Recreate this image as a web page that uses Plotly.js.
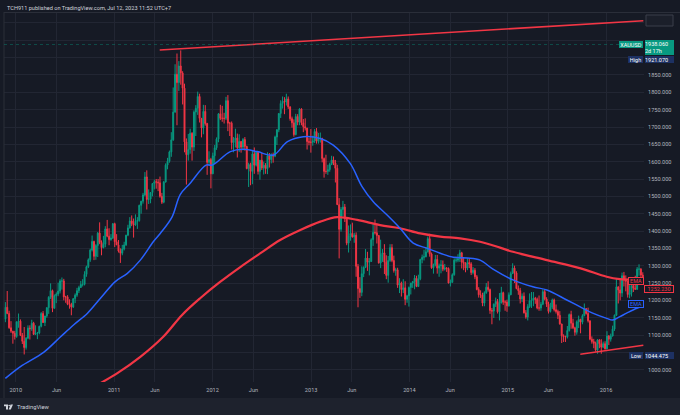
<!DOCTYPE html>
<html><head><meta charset="utf-8">
<script src="https://cdn.plot.ly/plotly-3.0.1.min.js"></script>
<style>html,body{margin:0;padding:0;background:#161a25;}#chart{width:680px;height:415px;}</style>
</head><body><div id="chart"></div>
<script>
// ---- Weekly XAUUSD candles (week start dates) ----
const weeks = [
'2009-11-23','2009-11-30','2009-12-07','2009-12-14','2009-12-21','2009-12-28',
'2010-01-04','2010-01-11','2010-01-18','2010-01-25','2010-02-01','2010-02-08','2010-02-15','2010-02-22','2010-03-01','2010-03-08','2010-03-15','2010-03-22','2010-03-29','2010-04-05','2010-04-12','2010-04-19','2010-04-26','2010-05-03','2010-05-10','2010-05-17','2010-05-24','2010-05-31','2010-06-07','2010-06-14','2010-06-21','2010-06-28','2010-07-05','2010-07-12','2010-07-19','2010-07-26','2010-08-02','2010-08-09','2010-08-16','2010-08-23','2010-08-30','2010-09-06','2010-09-13','2010-09-20','2010-09-27','2010-10-04','2010-10-11','2010-10-18','2010-10-25','2010-11-01','2010-11-08','2010-11-15','2010-11-22','2010-11-29','2010-12-06','2010-12-13','2010-12-20','2010-12-27',
'2011-01-03','2011-01-10','2011-01-17','2011-01-24','2011-01-31','2011-02-07','2011-02-14','2011-02-21','2011-02-28','2011-03-07','2011-03-14','2011-03-21','2011-03-28','2011-04-04','2011-04-11','2011-04-18','2011-04-25','2011-05-02','2011-05-09','2011-05-16','2011-05-23','2011-05-30','2011-06-06','2011-06-13','2011-06-20','2011-06-27','2011-07-04','2011-07-11','2011-07-18','2011-07-25','2011-08-01','2011-08-08','2011-08-15','2011-08-22','2011-08-29','2011-09-05','2011-09-12','2011-09-19','2011-09-26','2011-10-03','2011-10-10','2011-10-17','2011-10-24','2011-10-31','2011-11-07','2011-11-14','2011-11-21','2011-11-28','2011-12-05','2011-12-12','2011-12-19','2011-12-26',
'2012-01-02','2012-01-09','2012-01-16','2012-01-23','2012-01-30','2012-02-06','2012-02-13','2012-02-20','2012-02-27','2012-03-05','2012-03-12','2012-03-19','2012-03-26','2012-04-02','2012-04-09','2012-04-16','2012-04-23','2012-04-30','2012-05-07','2012-05-14','2012-05-21','2012-05-28','2012-06-04','2012-06-11','2012-06-18','2012-06-25','2012-07-02','2012-07-09','2012-07-16','2012-07-23','2012-07-30','2012-08-06','2012-08-13','2012-08-20','2012-08-27','2012-09-03','2012-09-10','2012-09-17','2012-09-24','2012-10-01','2012-10-08','2012-10-15','2012-10-22','2012-10-29','2012-11-05','2012-11-12','2012-11-19','2012-11-26','2012-12-03','2012-12-10','2012-12-17','2012-12-24','2012-12-31',
'2013-01-07','2013-01-14','2013-01-21','2013-01-28','2013-02-04','2013-02-11','2013-02-18','2013-02-25','2013-03-04','2013-03-11','2013-03-18','2013-03-25','2013-04-01','2013-04-08','2013-04-15','2013-04-22','2013-04-29','2013-05-06','2013-05-13','2013-05-20','2013-05-27','2013-06-03','2013-06-10','2013-06-17','2013-06-24','2013-07-01','2013-07-08','2013-07-15','2013-07-22','2013-07-29','2013-08-05','2013-08-12','2013-08-19','2013-08-26','2013-09-02','2013-09-09','2013-09-16','2013-09-23','2013-09-30','2013-10-07','2013-10-14','2013-10-21','2013-10-28','2013-11-04','2013-11-11','2013-11-18','2013-11-25','2013-12-02','2013-12-09','2013-12-16','2013-12-23','2013-12-30',
'2014-01-06','2014-01-13','2014-01-20','2014-01-27','2014-02-03','2014-02-10','2014-02-17','2014-02-24','2014-03-03','2014-03-10','2014-03-17','2014-03-24','2014-03-31','2014-04-07','2014-04-14','2014-04-21','2014-04-28','2014-05-05','2014-05-12','2014-05-19','2014-05-26','2014-06-02','2014-06-09','2014-06-16','2014-06-23','2014-06-30','2014-07-07','2014-07-14','2014-07-21','2014-07-28','2014-08-04','2014-08-11','2014-08-18','2014-08-25','2014-09-01','2014-09-08','2014-09-15','2014-09-22','2014-09-29','2014-10-06','2014-10-13','2014-10-20','2014-10-27','2014-11-03','2014-11-10','2014-11-17','2014-11-24','2014-12-01','2014-12-08','2014-12-15','2014-12-22','2014-12-29',
'2015-01-05','2015-01-12','2015-01-19','2015-01-26','2015-02-02','2015-02-09','2015-02-16','2015-02-23','2015-03-02','2015-03-09','2015-03-16','2015-03-23','2015-03-30','2015-04-06','2015-04-13','2015-04-20','2015-04-27','2015-05-04','2015-05-11','2015-05-18','2015-05-25','2015-06-01','2015-06-08','2015-06-15','2015-06-22','2015-06-29','2015-07-06','2015-07-13','2015-07-20','2015-07-27','2015-08-03','2015-08-10','2015-08-17','2015-08-24','2015-08-31','2015-09-07','2015-09-14','2015-09-21','2015-09-28','2015-10-05','2015-10-12','2015-10-19','2015-10-26','2015-11-02','2015-11-09','2015-11-16','2015-11-23','2015-11-30','2015-12-07','2015-12-14','2015-12-21','2015-12-28',
'2016-01-04','2016-01-11','2016-01-18','2016-01-25','2016-02-01','2016-02-08','2016-02-15','2016-02-22','2016-02-29','2016-03-07','2016-03-14','2016-03-21','2016-03-28','2016-04-04','2016-04-11','2016-04-18','2016-04-25','2016-05-02','2016-05-09','2016-05-16'];

const opens = [
1146,1180,1162,1121,1111,1105,
1096,1138,1140,1099,1082,1064,1091,1120,1118,1134,1102,1106,1106,1125,1162,1136,1155,1179,1209,1228,1177,1213,1218,1227,1256,1256,1210,1210,1189,1188,1181,1205,1215,1228,1237,1246,1246,1275,1297,1317,1345,1370,1327,1358,1394,1367,1352,1362,1406,1385,1375,1380,
1421,1369,1360,1342,1336,1348,1360,1388,1409,1429,1421,1418,1428,1430,1474,1486,1504,1556,1491,1492,1511,1537,1542,1541,1539,1500,1483,1541,1590,1601,1628,1663,1743,1852,1828,1876,1856,1812,1657,1620,1635,1682,1642,1743,1754,1788,1725,1697,1745,1710,1598,1606,
1565,1617,1640,1665,1738,1725,1725,1725,1776,1711,1711,1655,1662,1668,1640,1658,1642,1664,1644,1580,1592,1572,1622,1590,1627,1572,1604,1582,1590,1580,1617,1606,1620,1616,1671,1692,1739,1768,1774,1772,1781,1758,1724,1712,1678,1730,1714,1752,1712,1701,1697,1658,1656,
1656,1660,1687,1659,1667,1667,1609,1572,1572,1577,1592,1605,1596,1581,1476,1405,1462,1469,1436,1365,1386,1393,1383,1388,1298,1234,1223,1277,1295,1322,1310,1312,1375,1396,1395,1387,1308,1333,1337,1310,1272,1315,1352,1315,1286,1288,1244,1250,1231,1236,1203,1213,
1237,1250,1254,1264,1240,1262,1318,1324,1326,1340,1378,1334,1294,1303,1318,1293,1300,1302,1290,1293,1292,1250,1252,1274,1316,1316,1320,1337,1310,1307,1293,1309,1305,1280,1287,1268,1231,1216,1216,1192,1222,1238,1231,1171,1169,1189,1197,1167,1192,1222,1195,1195,
1184,1216,1277,1293,1279,1234,1228,1204,1212,1164,1152,1182,1199,1201,1206,1203,1178,1178,1189,1225,1204,1189,1168,1180,1201,1173,1168,1157,1132,1098,1095,1094,1113,1159,1134,1121,1108,1138,1145,1137,1156,1176,1162,1141,1088,1081,1076,1057,1086,1075,1065,1075,
1060,1097,1088,1097,1117,1157,1239,1230,1221,1271,1259,1255,1217,1222,1243,1235,1232,1290,1290,1273];

const highs = [
1195,1227,1170,1140,1112,1112,
1139,1162,1145,1106,1123,1094,1128,1128,1144,1138,1128,1109,1127,1166,1169,1155,1180,1212,1249,1231,1217,1223,1251,1261,1266,1262,1213,1215,1203,1193,1205,1220,1236,1242,1256,1261,1284,1300,1321,1349,1387,1372,1362,1397,1425,1373,1386,1414,1432,1408,1391,1423,
1424,1391,1374,1350,1360,1369,1389,1418,1440,1445,1436,1448,1440,1476,1487,1510,1570,1575,1520,1512,1538,1548,1550,1550,1557,1510,1544,1595,1611,1632,1685,1814,1881,1912,1890,1921,1861,1825,1667,1680,1695,1685,1748,1763,1802,1796,1726,1764,1763,1712,1630,1611,
1626,1648,1670,1740,1764,1761,1741,1787,1792,1715,1716,1671,1695,1681,1679,1660,1668,1671,1646,1597,1597,1632,1641,1628,1627,1605,1625,1600,1596,1627,1625,1624,1626,1675,1694,1740,1777,1788,1786,1796,1788,1760,1730,1722,1738,1737,1754,1754,1723,1725,1697,1669,1694,
1675,1694,1697,1683,1684,1669,1612,1620,1591,1597,1617,1615,1605,1591,1495,1469,1487,1478,1440,1416,1419,1424,1395,1396,1305,1267,1298,1298,1348,1340,1322,1379,1420,1433,1421,1388,1375,1348,1362,1330,1328,1362,1362,1329,1294,1294,1264,1254,1261,1255,1216,1240,
1250,1256,1273,1271,1274,1320,1332,1346,1354,1384,1392,1338,1306,1331,1331,1306,1316,1315,1305,1296,1295,1260,1278,1321,1326,1333,1346,1340,1325,1310,1322,1321,1310,1296,1293,1273,1238,1229,1222,1226,1250,1255,1234,1178,1191,1208,1204,1221,1239,1225,1200,1202,
1223,1283,1307,1300,1284,1243,1236,1220,1223,1172,1189,1220,1224,1224,1210,1208,1214,1196,1232,1232,1209,1196,1193,1205,1205,1188,1173,1169,1132,1102,1098,1126,1162,1170,1147,1124,1142,1156,1147,1160,1191,1178,1179,1142,1096,1089,1081,1088,1088,1088,1081,1082,
1111,1100,1104,1127,1159,1263,1240,1261,1280,1282,1272,1256,1244,1251,1262,1271,1296,1304,1293,1281];

const lows = [
1137,1160,1118,1106,1075,1087,
1092,1121,1097,1074,1044,1058,1088,1087,1112,1100,1100,1088,1102,1122,1135,1126,1150,1161,1204,1166,1177,1192,1212,1220,1231,1200,1193,1186,1176,1157,1178,1192,1210,1221,1236,1240,1243,1268,1293,1311,1341,1316,1317,1325,1362,1330,1350,1353,1382,1359,1372,1377,
1354,1360,1338,1308,1330,1344,1357,1385,1407,1414,1381,1415,1406,1427,1450,1479,1500,1462,1478,1480,1500,1520,1522,1515,1496,1478,1480,1540,1578,1597,1614,1660,1741,1705,1804,1822,1765,1627,1534,1603,1623,1603,1631,1674,1735,1713,1670,1679,1704,1562,1588,1523,
1564,1594,1634,1656,1720,1715,1710,1720,1688,1674,1635,1627,1641,1612,1628,1626,1633,1632,1578,1527,1532,1535,1565,1586,1563,1548,1576,1563,1565,1564,1583,1595,1597,1613,1648,1685,1726,1753,1737,1762,1752,1718,1698,1672,1676,1705,1705,1705,1685,1690,1635,1647,1626,
1646,1654,1652,1652,1655,1598,1554,1565,1562,1571,1590,1590,1540,1475,1321,1398,1443,1426,1359,1338,1372,1381,1366,1268,1180,1207,1212,1267,1293,1285,1272,1311,1357,1390,1364,1306,1293,1311,1276,1261,1251,1311,1310,1280,1271,1236,1221,1211,1221,1186,1193,1182,
1217,1236,1232,1238,1240,1258,1307,1315,1324,1338,1326,1291,1277,1298,1277,1268,1278,1284,1286,1282,1249,1240,1251,1271,1309,1310,1311,1292,1287,1281,1287,1293,1273,1275,1261,1229,1208,1207,1183,1183,1219,1225,1161,1131,1149,1181,1162,1142,1192,1187,1170,1167,
1182,1215,1276,1250,1232,1216,1191,1195,1162,1147,1142,1178,1178,1183,1190,1174,1170,1170,1186,1200,1181,1162,1165,1175,1168,1162,1146,1130,1077,1080,1080,1090,1110,1118,1117,1098,1101,1120,1105,1131,1154,1159,1136,1085,1075,1062,1052,1046,1062,1046,1062,1058,
1059,1071,1081,1096,1112,1155,1191,1200,1210,1240,1226,1208,1206,1211,1224,1231,1230,1271,1258,1245];

const closes = [
1180,1162,1121,1111,1105,1096,
1138,1140,1099,1082,1064,1091,1120,1118,1134,1102,1106,1106,1125,1162,1136,1155,1179,1209,1228,1177,1213,1218,1227,1256,1256,1210,1210,1189,1188,1181,1205,1215,1228,1237,1246,1246,1275,1297,1317,1345,1370,1327,1358,1394,1367,1352,1362,1406,1385,1375,1380,1421,
1369,1360,1342,1336,1348,1360,1388,1409,1429,1421,1418,1428,1430,1474,1486,1504,1556,1491,1492,1511,1537,1542,1541,1539,1500,1483,1541,1590,1601,1628,1663,1743,1852,1828,1876,1856,1812,1657,1620,1635,1682,1642,1743,1754,1788,1725,1697,1745,1710,1598,1606,1565,
1617,1640,1665,1738,1725,1725,1725,1776,1711,1711,1655,1662,1668,1640,1658,1642,1664,1644,1580,1592,1572,1622,1590,1627,1572,1604,1582,1590,1580,1617,1606,1620,1616,1671,1692,1739,1768,1774,1772,1781,1758,1724,1712,1678,1730,1714,1752,1712,1701,1697,1658,1656,1656,
1660,1687,1659,1667,1667,1609,1572,1572,1577,1592,1605,1596,1581,1476,1405,1462,1469,1436,1365,1386,1393,1383,1388,1298,1234,1223,1277,1295,1322,1310,1312,1375,1396,1395,1387,1308,1333,1337,1310,1272,1315,1352,1315,1286,1288,1244,1250,1231,1236,1203,1213,1237,
1250,1254,1264,1240,1262,1318,1324,1326,1340,1378,1334,1294,1303,1318,1293,1300,1302,1290,1293,1292,1250,1252,1274,1316,1316,1320,1337,1310,1307,1293,1309,1305,1280,1287,1268,1231,1216,1216,1192,1222,1238,1231,1171,1169,1189,1197,1167,1192,1222,1195,1195,1184,
1216,1277,1293,1279,1234,1228,1204,1212,1164,1152,1182,1199,1201,1206,1203,1178,1178,1189,1225,1204,1189,1168,1180,1201,1173,1168,1157,1132,1098,1095,1094,1113,1159,1134,1121,1108,1138,1145,1137,1156,1176,1162,1141,1088,1081,1076,1057,1086,1075,1065,1075,1060,
1097,1088,1097,1117,1157,1239,1230,1221,1271,1259,1255,1217,1222,1243,1235,1232,1290,1290,1273,1252.23];

// ---- EMA lines ----
const emaBlueDates = ['2009-11-23','2010-01-18','2010-04-14','2010-06-16','2010-08-03','2010-09-24','2010-11-11','2011-01-05','2011-02-19','2011-04-08','2011-05-26','2011-06-21','2011-08-04','2011-09-03','2011-10-10','2011-12-08','2011-12-31','2012-03-07','2012-04-24','2012-06-15','2012-08-14','2012-10-05','2012-12-03','2013-02-04','2013-03-24','2013-05-26','2013-07-09','2013-08-19','2013-10-10','2013-11-27','2014-01-15','2014-03-08','2014-04-25','2014-06-13','2014-08-03','2014-09-20','2014-11-07','2015-01-20','2015-04-04','2015-05-26','2015-08-08','2015-09-25','2015-11-12','2016-01-03','2016-01-25','2016-02-21','2016-03-17','2016-04-24','2016-05-16'];
const emaBlue = [975,1009,1050,1095,1129,1163,1206,1254,1278,1316,1369,1393,1441,1505,1538,1590,1590,1629,1636,1629,1619,1658,1672,1667,1648,1595,1528,1485,1446,1408,1365,1350,1336,1324,1322,1316,1290,1259,1239,1230,1201,1182,1163,1148,1143,1153,1163,1177,1182];
const emaRedDates = ['2010-10-30','2011-01-13','2011-04-08','2011-07-02','2011-09-10','2011-11-16','2012-01-29','2012-04-13','2012-06-27','2012-09-08','2012-11-22','2013-02-04','2013-04-08','2013-06-21','2013-09-14','2013-11-27','2014-02-10','2014-04-25','2014-07-08','2014-09-20','2014-12-03','2015-01-20','2015-05-26','2015-09-25','2016-01-03','2016-02-21','2016-04-09','2016-05-16'];
const emaRed = [956,990,1037,1095,1158,1206,1253,1296,1336,1374,1403,1427,1440,1432,1417,1408,1393,1384,1379,1369,1352,1340,1316,1293,1268,1261,1259,1257];

// ---- Trend lines ----
const topLineDates = ['2011-06-19','2016-05-18'];
const topLinePrices = [1922, 2006.6];
const bottomLineDates = ['2015-09-27','2016-05-18'];
const bottomLinePrices = [1044.4, 1070.3];

// ---- Axis ticks & labels (labels hidden where the price badges cover them) ----
const xTickDates = ['2010-01-01','2010-06-01','2011-01-01','2011-06-01','2012-01-01','2012-06-01','2013-01-01','2013-06-01','2014-01-01','2014-06-01','2015-01-01','2015-06-01','2016-01-01'];
const xTickLabels = ['2010','Jun','2011','Jun','2012','Jun','2013','Jun','2014','Jun','2015','Jun','2016'];
const yTickValues = [1000,1050,1100,1150,1200,1250,1300,1350,1400,1450,1500,1550,1600,1650,1700,1750,1800,1850,1900,1950,2000];
const yTickLabels = ['1000.000','','1100.000','1150.000','1200.000','1250.000','1300.000','1350.000','1400.000','1450.000','1500.000','1550.000','1600.000','1650.000','1700.000','1750.000','1800.000','1850.000','','',''];

// ---- Labels ----
const headerText = 'TCH911 published on TradingView.com, Jul 12, 2023 11:52 UTC+7';
const symbol = 'XAUUSD';
const lastPrice = 1938.06;
const lastPriceText = '1938.060';
const countdown = '2d 17h';
const highText = '1921.070';
const lowText = '1044.475';
const emaRedText = '1252.230';

// ---- Geometry helpers (pixel -> paper) ----
const W = 680, H = 415, PL = 4, PR = 644, PT = 13, PB = 382;
const fx = px => (px - PL) / (PR - PL);
const fy = py => (PB - py) / (PB - PT);

const UP = '#089981', DOWN = '#f23645', BLUE = '#2962ff', RED = '#f23645';
const BG = '#161a25', GRID = '#222633', TXT = '#b2b5be', NAVY = '#1d3163';
const FONT = 'Roboto, "Liberation Sans", sans-serif';

const traces = [
  {type:'candlestick', x: weeks, open: opens, high: highs, low: lows, close: closes,
   increasing:{line:{color:UP, width:1}, fillcolor:UP},
   decreasing:{line:{color:DOWN, width:1}, fillcolor:DOWN},
   whiskerwidth:0, hoverinfo:'skip', showlegend:false},
  {type:'scatter', mode:'lines', x: emaRedDates, y: emaRed, line:{color:RED, width:2.2, shape:'spline', smoothing:1}, hoverinfo:'skip', showlegend:false},
  {type:'scatter', mode:'lines', x: emaBlueDates, y: emaBlue, line:{color:BLUE, width:1.5, shape:'spline', smoothing:1}, hoverinfo:'skip', showlegend:false},
  {type:'scatter', mode:'lines', x: topLineDates, y: topLinePrices, line:{color:RED, width:1.6}, hoverinfo:'skip', showlegend:false},
  {type:'scatter', mode:'lines', x: bottomLineDates, y: bottomLinePrices, line:{color:RED, width:1.6}, hoverinfo:'skip', showlegend:false}
];

function badge(text, cx, cy, w, h, bg, border, color, align) {
  return {xref:'paper', yref:'paper', x: fx(cx), y: fy(cy), xanchor:'center', yanchor:'middle',
    text: text, showarrow:false, bgcolor: bg, bordercolor: border || bg, borderwidth: border ? 1 : 0,
    borderpad: 0, width: w, height: h, align: align || 'center', valign:'middle',
    font:{family: FONT, size: 5.5, color: color}};
}

const annotations = [
  {xref:'paper', yref:'paper', x: fx(5), y: fy(7.5), xanchor:'left', yanchor:'middle', showarrow:false,
   text: headerText, font:{family: FONT, size: 5.6, color:'#d1d4dc'}},
  {xref:'paper', yref:'paper', x: fx(15), y: fy(407), xanchor:'left', yanchor:'middle', showarrow:false,
   text: 'TradingView', font:{family: FONT, size: 5.8, color:'#d1d4dc'}},
  badge(symbol, 631, 44.5, 24, 7, UP, null, '#ffffff'),
  badge(lastPriceText + '<br>' + countdown, 659.5, 48, 29, 15, UP, null, '#ffffff', 'left'),
  badge('High', 635.5, 59.5, 15, 7, NAVY, null, '#ffffff'),
  badge(highText, 659.5, 59.5, 29, 7, NAVY, null, '#ffffff', 'left'),
  badge('Low', 636, 355.5, 14, 7, NAVY, null, '#ffffff'),
  badge(lowText, 659.5, 355.5, 29, 7, NAVY, null, '#ffffff', 'left'),
  badge('EMA', 635.5, 281, 14, 5.5, BG, RED, RED),
  badge(emaRedText, 658.5, 289, 28, 5.5, BG, RED, RED),
  badge('EMA', 635.5, 304, 14, 5.5, BG, BLUE, BLUE)
];

const shapes = [
  // footer strip
  {type:'rect', xref:'paper', yref:'paper', x0: fx(-2), x1: fx(W+2), y0: fy(H+2), y1: fy(398), fillcolor:'#1e222d', line:{width:0}, layer:'above'},
  // left border
  {type:'line', xref:'paper', yref:'paper', x0: fx(4), x1: fx(4), y0: fy(398), y1: fy(12), line:{color:'#2a2e39', width:1}},
  // top border of chart area
  {type:'line', xref:'paper', yref:'paper', x0: fx(4), x1: fx(680), y0: fy(12.5), y1: fy(12.5), line:{color:'#2a2e39', width:1}},
  // last price line
  {type:'line', xref:'paper', yref:'y', x0: 0, x1: 1, y0: lastPrice, y1: lastPrice, line:{color:'rgba(8,153,129,0.4)', width:1, dash:'dot'}},
  // empty price box top-right (drawing label)
  {type:'rect', xref:'paper', yref:'paper', x0: fx(646), x1: fx(673), y0: fy(26), y1: fy(15), fillcolor:'#1b1f2a', line:{color:'#3a3e4b', width:1}},
  // TradingView logo (T + dot + slanted V)
  {type:'path', xref:'paper', yref:'paper', fillcolor:'#d1d4dc', line:{width:0},
   path: `M ${fx(4)} ${fy(404.5)} L ${fx(8)} ${fy(404.5)} L ${fx(8)} ${fy(409.5)} L ${fx(6)} ${fy(409.5)} L ${fx(6)} ${fy(406.2)} L ${fx(4)} ${fy(406.2)} Z`},
  {type:'circle', xref:'paper', yref:'paper', fillcolor:'#d1d4dc', line:{width:0},
   x0: fx(8.4), x1: fx(10), y0: fy(406.3), y1: fy(404.7)},
  {type:'path', xref:'paper', yref:'paper', fillcolor:'#d1d4dc', line:{width:0},
   path: `M ${fx(10.6)} ${fy(404.5)} L ${fx(13)} ${fy(404.5)} L ${fx(10.8)} ${fy(409.5)} L ${fx(8.6)} ${fy(409.5)} Z`}
];

const layout = {
  width: W, height: H,
  margin:{l: PL, r: W - PR, t: PT, b: H - PB, pad: 0},
  paper_bgcolor: BG, plot_bgcolor: BG,
  font:{family: FONT, color: TXT},
  showlegend:false, hovermode:false, dragmode:false,
  xaxis:{type:'date', range:['2009-11-18','2016-05-20 12:00'],
    tickmode:'array', tickvals: xTickDates, ticktext: xTickLabels,
    showgrid:true, gridcolor: GRID, gridwidth:1, zeroline:false, showline:false,
    ticks:'', ticklabelstandoff: 3, tickfont:{family: FONT, size:5.6, color: TXT},
    rangeslider:{visible:false}, fixedrange:true},
  yaxis:{side:'right', range:[964.5, 2028.8],
    tickmode:'array', tickvals: yTickValues, ticktext: yTickLabels,
    showgrid:true, gridcolor: GRID, gridwidth:1, zeroline:false, showline:false,
    ticks:'', ticklabelstandoff: 3, tickfont:{family: FONT, size:5.6, color: TXT}, fixedrange:true},
  annotations: annotations,
  shapes: shapes
};

Plotly.newPlot('chart', traces, layout, {staticPlot:true, displayModeBar:false, responsive:false});
</script>
</body></html>
